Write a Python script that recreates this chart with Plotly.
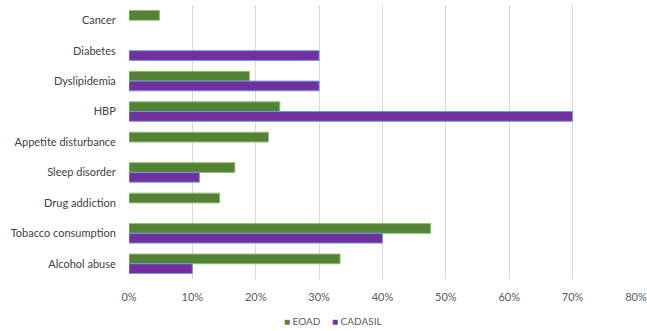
import plotly.graph_objects as go

categories = ["Cancer", "Diabetes", "Dyslipidemia", "HBP", "Appetite disturbance",
              "Sleep disorder", "Drug addiction", "Tobacco consumption", "Alcohol abuse"]
eoad = [0.048, None, 0.19, 0.238, 0.22, 0.167, 0.143, 0.476, 0.333]
cadasil = [None, 0.30, 0.30, 0.70, None, 0.111, None, 0.40, 0.10]
tick_vals = [0, 0.1, 0.2, 0.3, 0.4, 0.5, 0.6, 0.7, 0.8]
tick_text = ["0%", "10%", "20%", "30%", "40%", "50%", "60%", "70%", "80%"]

green = "#548235"
purple = "#7030a0"

fig = go.Figure()
fig.add_trace(go.Bar(
    name="EOAD", y=categories, x=eoad, orientation="h",
    marker=dict(color=green, line=dict(color="#8fbf6f", width=1)),
))
fig.add_trace(go.Bar(
    name="CADASIL", y=categories, x=cadasil, orientation="h",
    marker=dict(color=purple, line=dict(color="#6f9be0", width=1)),
))

# compact legend entries under the axis
for label, colour, xpos in [("EOAD", green, 0.302), ("CADASIL", purple, 0.396)]:
    fig.add_annotation(text=f"<span style='color:{colour}'>■</span> {label}",
                       xref="paper", yref="paper", x=xpos, y=-0.152,
                       xanchor="left", yanchor="middle", showarrow=False,
                       font=dict(size=10, color="#595959"))

font_family = "Lato, Carlito, Calibri, sans-serif"
fig.update_layout(
    width=647, height=331,
    margin=dict(l=129, r=11, t=5, b=52),
    paper_bgcolor="white", plot_bgcolor="white",
    barmode="group", bargap=0.36, bargroupgap=0.0,
    font=dict(family=font_family, size=11, color="#595959"),
    showlegend=False,
    xaxis=dict(range=[0, 0.8], tickvals=tick_vals, ticktext=tick_text,
               showgrid=True, gridcolor="#d9d9d9", gridwidth=1,
               zeroline=False, showline=False, automargin=False,
               ticks="outside", ticklen=8, tickcolor="rgba(0,0,0,0)",
               tickfont=dict(size=11, color="#595959"), fixedrange=True),
    yaxis=dict(autorange="reversed", showgrid=False, zeroline=False, showline=False,
               automargin=False,
               ticks="outside", ticklen=10, tickcolor="rgba(0,0,0,0)",
               tickfont=dict(size=11, color="#404040"), fixedrange=True),
)

fig.write_html("out.html")
